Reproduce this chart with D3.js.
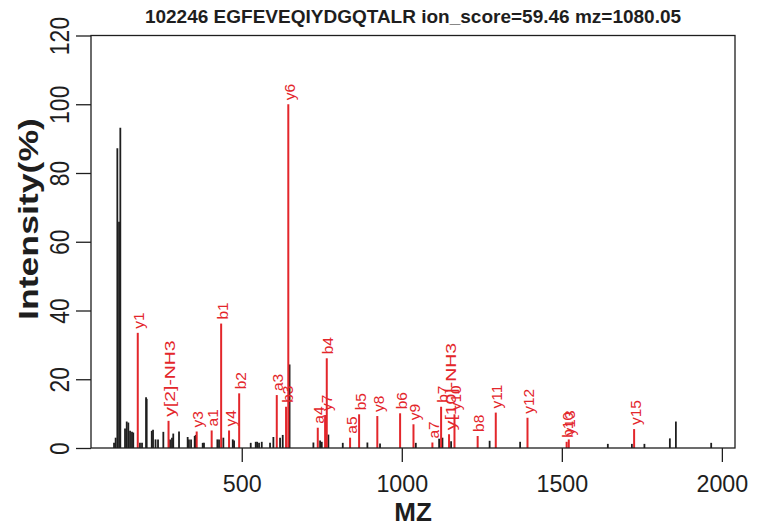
<!DOCTYPE html>
<html><head><meta charset="utf-8">
<script src="https://cdn.jsdelivr.net/npm/d3@7"></script>
<style>body{margin:0;background:#fff}svg{display:block}</style>
</head><body>
<svg id="c" width="760" height="527"></svg>
<script>
const titleText = "102246 EGFEVEQIYDGQTALR ion_score=59.46 mz=1080.05";
const xTicks = [500, 1000, 1500, 2000];
const yTicks = [0, 20, 40, 60, 80, 100, 120];

// unmatched (black) peaks
const peakMz = [101, 106, 111.3, 116.6, 120.6, 135.3, 140.6, 145.6, 151, 157, 161, 182, 188.4, 201, 203,
  218.8, 222.8, 230.6, 238.4, 255, 276, 282, 286, 304, 331, 335, 341.6, 353, 356, 378, 382,
  423.8, 429, 442.5, 471.9, 476, 528, 543.7, 548, 554, 562.5, 588.4, 598.8, 619.7, 628, 649.4,
  723.8, 744.7, 750, 770.6, 815.6, 892.5, 932, 1043.8, 1116.6, 1127, 1154, 1274.4, 1369.7,
  1643.7, 1718.8, 1758, 1837.5, 1856.3, 1966.6];
const peakInt = [1.5, 3, 87.2, 65.8, 93.2, 5.7, 7.7, 7.4, 5, 4.7, 4.5, 1.5, 1.5, 14.8, 14.3,
  5, 5.3, 2.5, 2.5, 4.7, 2.5, 3, 4.2, 4.8, 3.2, 2.5, 2.5, 3.5, 3.8, 1.5, 1.5,
  2.5, 2.5, 3, 2.5, 2.2, 1.5, 1.8, 1.8, 1.5, 1.8, 1.5, 3.2, 3, 3.8, 24.3,
  1.6, 2.2, 1.8, 3.9, 1.5, 1.6, 1.3, 1.5, 2.7, 3, 2, 2.1, 1.8,
  1.2, 1.2, 1.2, 2.8, 7.7, 1.5];

// matched (red) fragment ions
const ionLabel = ["y1", "y[2]-NH3", "y3", "a1", "b1", "y4", "b2", "a3", "b3", "y6", "a4", "y7", "b4",
  "a5", "b5", "y8", "b6", "y9", "a7", "b7", "y[10]-NH3", "y10", "b8", "y11", "y12", "b10", "y13", "y15"];
const ionMz = [175.1, 271.2, 359.2, 406, 435.6, 460.3, 491.9, 609.4, 638.4, 645.4, 737.5, 760.4, 765.6,
  838.4, 866.6, 923.5, 994.7, 1036.5, 1095.6, 1122.8, 1147.6, 1164.6, 1237, 1293.6, 1392.7, 1515, 1521.7, 1725.8];
const ionInt = [33.5, 7.9, 4.8, 5.1, 36.2, 5.1, 15.9, 15.4, 12, 100, 5.9, 9.6, 26.1,
  3.0, 9.8, 9.3, 10.1, 6.9, 1.6, 12.0, 4.0, 9.8, 3.5, 10.3, 8.8, 1.8, 2.5, 5.5];

const red = "#e3262b", ink = "#1e1e1e";
const font = "'Liberation Sans', Arial, Helvetica, sans-serif";
const L = 91, R = 735, T = 35.5, B = 448;
const svg = d3.select("#c");
const x = d3.scaleLinear().domain([29, 2041]).range([L, R]);
const y = d3.scaleLinear().domain([0, 120]).range([B, T]);

// stretch a text element along its writing direction
function stretch(sel, k) {
  sel.each(function () {
    const w = this.getComputedTextLength();
    d3.select(this).attr("textLength", w * k).attr("lengthAdjust", "spacingAndGlyphs");
  });
}

// peaks
svg.append("g").selectAll("line").data(peakMz.map((m, i) => ({m, v: peakInt[i]}))).join("line")
  .attr("x1", d => x(d.m)).attr("x2", d => x(d.m)).attr("y1", y(0)).attr("y2", d => y(d.v))
  .attr("stroke", ink).attr("stroke-width", 1.8);

const ions = ionMz.map((m, i) => ({m, v: ionInt[i], t: ionLabel[i]}));
svg.append("g").selectAll("line").data(ions).join("line")
  .attr("x1", d => x(d.m)).attr("x2", d => x(d.m)).attr("y1", y(0)).attr("y2", d => y(d.v))
  .attr("stroke", red).attr("stroke-width", 2);
const lbl = svg.append("g").selectAll("text").data(ions).join("text")
  .attr("transform", d => `translate(${x(d.m)},${y(d.v) - 4}) rotate(-90)`)
  .attr("dy", "0.42em").attr("fill", red)
  .style("font-family", font).style("font-size", "15.5px").text(d => d.t);
stretch(lbl.filter(d => d.t.includes("-")), 1.25);

// box
svg.append("rect").attr("x", L).attr("y", T).attr("width", R - L).attr("height", B - T)
  .attr("fill", "none").attr("stroke", ink).attr("stroke-width", 1.3);

// axes
const xa = svg.append("g").attr("transform", `translate(0,${B})`)
  .call(d3.axisBottom(x).tickValues(xTicks).tickFormat(d3.format("d")).tickSize(14).tickSizeOuter(0));
xa.select(".domain").remove();
xa.selectAll("line").attr("stroke", ink).attr("stroke-width", 1.3);
xa.selectAll("text").attr("fill", ink).style("font-family", font).style("font-size", "24.5px")
  .attr("y", 44).attr("dy", null);
stretch(xa.selectAll("text"), 0.95);

const ya = svg.append("g").attr("transform", `translate(${L},0)`)
  .call(d3.axisLeft(y).tickValues(yTicks).tickSize(15).tickSizeOuter(0));
ya.select(".domain").remove();
ya.selectAll("line").attr("stroke", ink).attr("stroke-width", 1.3);
ya.selectAll("text").attr("fill", ink).style("font-family", font).style("font-size", "27px")
  .attr("x", null).attr("dy", null).attr("text-anchor", "middle")
  .attr("transform", d => `translate(-22.5,0) rotate(-90)`);
stretch(ya.selectAll("text"), 0.85);

svg.append("text").attr("x", (L + R) / 2).attr("y", 23).attr("text-anchor", "middle")
  .attr("fill", ink).style("font-family", font).style("font-size", "19px").style("font-weight", "bold")
  .text(titleText);
svg.append("text").attr("x", (L + R) / 2).attr("y", 521).attr("text-anchor", "middle")
  .attr("fill", ink).style("font-family", font).style("font-size", "26px").style("font-weight", "bold")
  .text("MZ");
const yl = svg.append("text").attr("transform", `translate(37.5,219) rotate(-90)`).attr("text-anchor", "middle")
  .attr("fill", ink).style("font-family", font).style("font-size", "27px").style("font-weight", "bold")
  .text("Intensity(%)");
yl.attr("textLength", 202).attr("lengthAdjust", "spacingAndGlyphs");
</script>
</body></html>
